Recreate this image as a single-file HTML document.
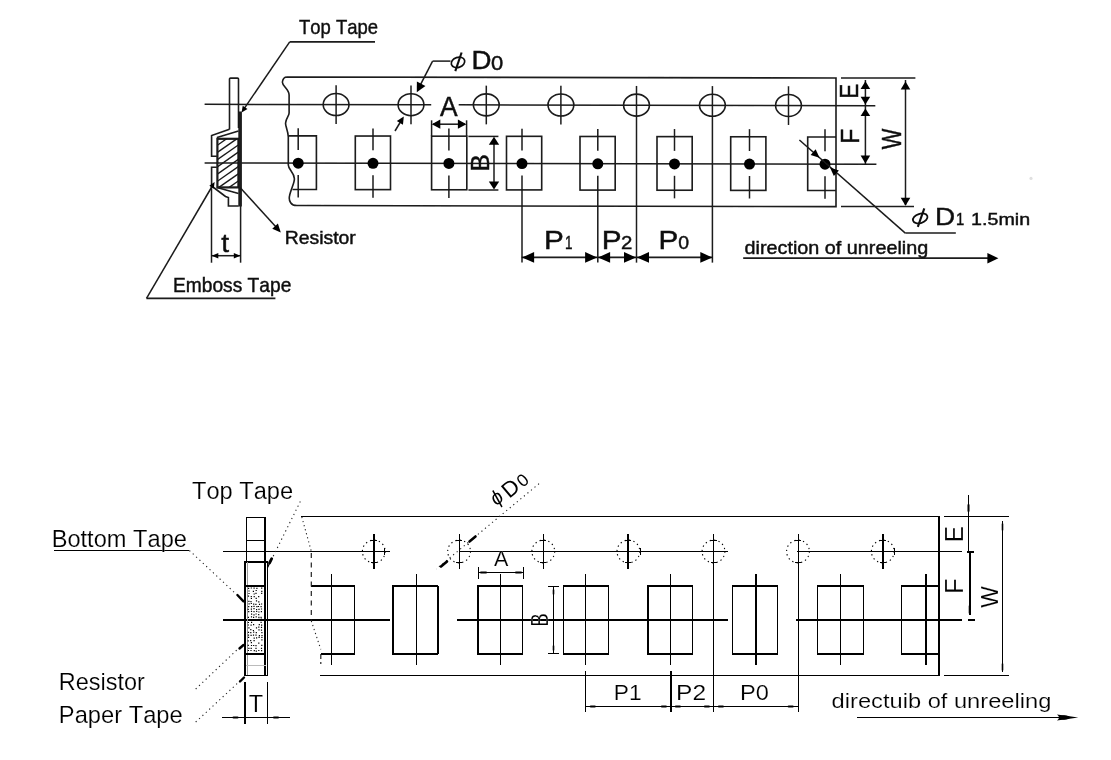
<!DOCTYPE html>
<html><head><meta charset="utf-8"><style>
html,body{margin:0;padding:0;background:#fff;}
body{width:1111px;height:760px;overflow:hidden;}
svg{display:block;font-kerning:none;}
</style></head><body>
<svg width="1111" height="760" viewBox="0 0 1111 760">
<rect width="1111" height="760" fill="#fff"/>
<defs><filter id="bl" x="-5%" y="-5%" width="110%" height="110%"><feGaussianBlur stdDeviation="0.55"/></filter></defs>
<g filter="url(#bl)"><g>
<g stroke="#1a1a1a" fill="none" stroke-linecap="butt" stroke-width="1.6">
<line x1="289.70" y1="41.80" x2="375.00" y2="41.80" stroke-width="1.8" />
<line x1="289.70" y1="41.80" x2="244.00" y2="108.80" stroke-width="1.5" />
<polygon points="241.60,112.40 242.70,105.64 247.49,108.92" fill="#000" stroke="none"/>
<path d="M287.2,76.95 L836,78.05 L836,206.65 L297,205.57 C291,205.6 288.5,201 289.5,196 C290.5,190 294.5,183 294.4,178.8 C294,172 288.5,170 288.3,165 L288.3,137 C288,130 285.2,126 285.6,123 C286,118 289.2,116 289.1,113 L289.1,95 C289,89 282,86 282.4,82 C282.8,78.5 285,76.95 287.2,76.95 Z"/>
<line x1="204.60" y1="104.29" x2="431.20" y2="104.74" stroke-width="1.5" />
<line x1="458.70" y1="104.80" x2="875.30" y2="105.63" stroke-width="1.5" />
<line x1="204.60" y1="162.99" x2="876.40" y2="164.33" stroke-width="1.5" />
<ellipse cx="336.1" cy="104.55" rx="12.9" ry="11.0"/>
<line x1="336.10" y1="85.35" x2="336.10" y2="124.05" stroke-width="1.5" />
<ellipse cx="411.0" cy="104.70" rx="12.9" ry="11.0"/>
<line x1="411.00" y1="85.50" x2="411.00" y2="124.20" stroke-width="1.5" />
<ellipse cx="486.3" cy="104.85" rx="12.9" ry="11.0"/>
<line x1="486.30" y1="85.65" x2="486.30" y2="124.35" stroke-width="1.5" />
<ellipse cx="560.9" cy="105.00" rx="12.9" ry="11.0"/>
<line x1="560.90" y1="85.80" x2="560.90" y2="124.50" stroke-width="1.5" />
<ellipse cx="636.5" cy="105.15" rx="12.9" ry="11.0"/>
<line x1="636.50" y1="85.95" x2="636.50" y2="262.60" stroke-width="1.5" />
<ellipse cx="712.4" cy="105.30" rx="12.9" ry="11.0"/>
<line x1="712.40" y1="86.10" x2="712.40" y2="262.60" stroke-width="1.5" />
<ellipse cx="788.5" cy="105.46" rx="12.9" ry="11.0"/>
<line x1="788.50" y1="86.26" x2="788.50" y2="124.96" stroke-width="1.5" />
<path d="M288.6,135.88 L316.4,135.88 L316.4,189.48 L292.5,189.48"/>
<circle cx="298.2" cy="163.18" r="5.5" fill="#000" stroke="none"/>
<line x1="298.20" y1="128.28" x2="298.20" y2="150.08" stroke-width="1.5" />
<line x1="298.20" y1="175.08" x2="298.20" y2="197.58" stroke-width="1.5" />
<rect x="355.3" y="136.03" width="35.2" height="53.60"/>
<circle cx="373.0" cy="163.33" r="5.5" fill="#000" stroke="none"/>
<line x1="373.00" y1="128.43" x2="373.00" y2="150.23" stroke-width="1.5" />
<line x1="373.00" y1="175.23" x2="373.00" y2="197.73" stroke-width="1.5" />
<rect x="431.6" y="136.18" width="35.2" height="53.60"/>
<circle cx="448.9" cy="163.48" r="5.5" fill="#000" stroke="none"/>
<line x1="448.90" y1="128.58" x2="448.90" y2="150.38" stroke-width="1.5" />
<line x1="448.90" y1="175.38" x2="448.90" y2="197.88" stroke-width="1.5" />
<rect x="506.5" y="136.32" width="35.2" height="53.60"/>
<circle cx="522.0" cy="163.62" r="5.5" fill="#000" stroke="none"/>
<line x1="522.00" y1="128.72" x2="522.00" y2="150.52" stroke-width="1.5" />
<line x1="522.00" y1="175.52" x2="522.00" y2="262.60" stroke-width="1.5" />
<rect x="580.0" y="136.48" width="35.2" height="53.60"/>
<circle cx="597.8" cy="163.78" r="5.5" fill="#000" stroke="none"/>
<line x1="597.80" y1="128.88" x2="597.80" y2="150.68" stroke-width="1.5" />
<line x1="597.80" y1="175.68" x2="597.80" y2="262.60" stroke-width="1.5" />
<rect x="657.0" y="136.63" width="35.2" height="53.60"/>
<circle cx="674.5" cy="163.93" r="5.5" fill="#000" stroke="none"/>
<line x1="674.50" y1="129.03" x2="674.50" y2="150.83" stroke-width="1.5" />
<line x1="674.50" y1="175.83" x2="674.50" y2="198.33" stroke-width="1.5" />
<rect x="730.7" y="136.78" width="35.2" height="53.60"/>
<circle cx="749.5" cy="164.08" r="5.5" fill="#000" stroke="none"/>
<line x1="749.50" y1="129.18" x2="749.50" y2="150.98" stroke-width="1.5" />
<line x1="749.50" y1="175.98" x2="749.50" y2="198.48" stroke-width="1.5" />
<path d="M836,136.93 L807.7,136.93 L807.7,190.53 L836,190.53"/>
<circle cx="825.0" cy="164.23" r="5.5" fill="#000" stroke="none"/>
<line x1="825.00" y1="129.33" x2="825.00" y2="151.13" stroke-width="1.5" />
<line x1="825.00" y1="176.13" x2="825.00" y2="198.63" stroke-width="1.5" />
<line x1="431.60" y1="120.30" x2="431.60" y2="136.00" stroke-width="1.5" />
<line x1="466.60" y1="120.30" x2="466.60" y2="136.00" stroke-width="1.5" />
<line x1="433.00" y1="124.20" x2="465.00" y2="124.20" stroke-width="1.5" />
<polygon points="431.80,124.20 440.30,119.60 440.30,128.80" fill="#000" stroke="none"/>
<polygon points="466.40,124.20 457.90,128.80 457.90,119.60" fill="#000" stroke="none"/>
<line x1="468.40" y1="136.40" x2="498.40" y2="136.40" stroke-width="1.5" />
<line x1="468.40" y1="190.00" x2="498.40" y2="190.00" stroke-width="1.5" />
<line x1="494.00" y1="140.00" x2="494.00" y2="186.00" stroke-width="1.5" />
<polygon points="494.00,136.80 499.20,144.80 488.80,144.80" fill="#000" stroke="none"/>
<polygon points="494.00,189.60 488.80,181.60 499.20,181.60" fill="#000" stroke="none"/>
<line x1="450.50" y1="61.10" x2="432.60" y2="61.10" stroke-width="1.5" />
<line x1="432.60" y1="61.10" x2="420.50" y2="84.60" stroke-width="1.5" />
<polygon points="416.80,92.20 416.88,81.56 425.42,85.95" fill="#000" stroke="none"/>
<line x1="395.00" y1="131.00" x2="401.00" y2="121.00" stroke-width="1.5" />
<polygon points="403.80,116.50 402.94,124.77 396.80,121.00" fill="#000" stroke="none"/>
<line x1="841.00" y1="78.10" x2="915.40" y2="78.10" stroke-width="1.5" />
<line x1="841.00" y1="206.60" x2="914.00" y2="206.60" stroke-width="1.5" />
<line x1="865.40" y1="80.00" x2="865.40" y2="164.30" stroke-width="1.5" />
<polygon points="865.40,81.20 870.20,89.00 860.60,89.00" fill="#000" stroke="none"/>
<polygon points="865.40,104.50 860.60,96.70 870.20,96.70" fill="#000" stroke="none"/>
<polygon points="865.40,108.50 870.20,116.00 860.60,116.00" fill="#000" stroke="none"/>
<polygon points="865.40,163.40 860.60,155.60 870.20,155.60" fill="#000" stroke="none"/>
<line x1="905.50" y1="80.00" x2="905.50" y2="205.00" stroke-width="1.5" />
<polygon points="905.50,81.40 910.30,89.40 900.70,89.40" fill="#000" stroke="none"/>
<polygon points="905.50,205.80 900.70,197.80 910.30,197.80" fill="#000" stroke="none"/>
<line x1="799.40" y1="140.00" x2="905.30" y2="233.10" stroke-width="1.5" />
<line x1="905.30" y1="233.10" x2="955.80" y2="233.10" stroke-width="1.5" />
<polygon points="819.50,157.80 810.62,155.01 815.66,149.32" fill="#000" stroke="none"/>
<polygon points="830.00,167.60 838.88,170.39 833.84,176.08" fill="#000" stroke="none"/>
<line x1="521.60" y1="257.40" x2="712.80" y2="257.40" stroke-width="1.8" />
<polygon points="522.10,257.40 534.10,252.00 534.10,262.80" fill="#000" stroke="none"/>
<polygon points="597.10,257.40 585.10,262.80 585.10,252.00" fill="#000" stroke="none"/>
<polygon points="598.10,257.40 610.10,252.00 610.10,262.80" fill="#000" stroke="none"/>
<polygon points="636.00,257.40 624.00,262.80 624.00,252.00" fill="#000" stroke="none"/>
<polygon points="637.00,257.40 649.00,252.00 649.00,262.80" fill="#000" stroke="none"/>
<polygon points="712.30,257.40 700.30,262.80 700.30,252.00" fill="#000" stroke="none"/>
<line x1="743.20" y1="258.20" x2="990.00" y2="258.20" stroke-width="1.8" />
<polygon points="998.40,258.20 987.40,263.40 987.40,253.00" fill="#000" stroke="none"/>
<path d="M229.5,129.5 L229.5,79 Q229.5,78.1 230.5,78.1 L237.5,78.1 Q238.5,78.1 238.5,79 L238.5,128"/>
<path d="M229.5,129.3 L211.6,135.6 L211.6,156.3 L216.8,156.3 M216.8,167.3 L211.6,167.3 L211.6,186 L225.5,196.5 L228.4,197.5 L228.4,206 L238.6,206"/>
<path d="M238.5,131 L217,137.5 M217,187.6 L238.5,193.5"/>
<defs><clipPath id="hc"><rect x="217" y="138.3" width="22" height="49.3"/></clipPath></defs>
<g clip-path="url(#hc)">
<line x1="212.00" y1="98.60" x2="244.00" y2="76.20" stroke-width="1.4" />
<line x1="212.00" y1="105.80" x2="244.00" y2="83.40" stroke-width="1.4" />
<line x1="212.00" y1="113.00" x2="244.00" y2="90.60" stroke-width="1.4" />
<line x1="212.00" y1="120.20" x2="244.00" y2="97.80" stroke-width="1.4" />
<line x1="212.00" y1="127.40" x2="244.00" y2="105.00" stroke-width="1.4" />
<line x1="212.00" y1="134.60" x2="244.00" y2="112.20" stroke-width="1.4" />
<line x1="212.00" y1="141.80" x2="244.00" y2="119.40" stroke-width="1.4" />
<line x1="212.00" y1="149.00" x2="244.00" y2="126.60" stroke-width="1.4" />
<line x1="212.00" y1="156.20" x2="244.00" y2="133.80" stroke-width="1.4" />
<line x1="212.00" y1="163.40" x2="244.00" y2="141.00" stroke-width="1.4" />
<line x1="212.00" y1="170.60" x2="244.00" y2="148.20" stroke-width="1.4" />
<line x1="212.00" y1="177.80" x2="244.00" y2="155.40" stroke-width="1.4" />
<line x1="212.00" y1="185.00" x2="244.00" y2="162.60" stroke-width="1.4" />
<line x1="212.00" y1="192.20" x2="244.00" y2="169.80" stroke-width="1.4" />
<line x1="212.00" y1="199.40" x2="244.00" y2="177.00" stroke-width="1.4" />
<line x1="212.00" y1="206.60" x2="244.00" y2="184.20" stroke-width="1.4" />
<line x1="212.00" y1="213.80" x2="244.00" y2="191.40" stroke-width="1.4" />
<line x1="212.00" y1="221.00" x2="244.00" y2="198.60" stroke-width="1.4" />
</g>
<rect x="217.4" y="138.8" width="21" height="48.6" stroke-width="2.2"/>
<line x1="240.10" y1="111.50" x2="240.10" y2="206.50" stroke-width="3.6" />
<line x1="211.50" y1="186.00" x2="211.50" y2="262.70" stroke-width="1.5" />
<line x1="240.60" y1="206.00" x2="240.60" y2="262.70" stroke-width="1.5" />
<line x1="212.00" y1="255.70" x2="240.00" y2="255.70" stroke-width="1.5" />
<polygon points="211.80,255.70 218.30,252.90 218.30,258.50" fill="#000" stroke="none"/>
<polygon points="240.30,255.70 233.80,258.50 233.80,252.90" fill="#000" stroke="none"/>
<line x1="146.50" y1="298.40" x2="275.40" y2="298.40" stroke-width="1.8" />
<line x1="146.50" y1="298.40" x2="212.30" y2="186.00" stroke-width="1.5" />
<polygon points="214.60,182.00 213.80,188.49 209.32,185.85" fill="#000" stroke="none"/>
<line x1="240.50" y1="188.00" x2="276.50" y2="227.50" stroke-width="1.5" />
<polygon points="280.80,232.40 272.27,228.66 277.90,223.55" fill="#000" stroke="none"/>
</g>
<circle cx="1031" cy="178.4" r="1.6" fill="#e0e0e0"/>
<g stroke="#111" stroke-width="0.45">
<text x="299.09" y="33.50" font-family="Liberation Sans" font-size="20.640" textLength="78.934" lengthAdjust="spacingAndGlyphs" fill="#111">Top Tape</text>
<g fill="none" stroke="#111"><ellipse cx="458.0" cy="62.4" rx="6.9" ry="5.0" stroke-width="1.7" transform="rotate(-18 458 62.4)"/><line x1="455.3" y1="71.2" x2="461.6" y2="52.5" stroke-width="2.1"/></g>
<text x="471.43" y="69.00" font-family="Liberation Sans" font-size="25.146" textLength="19.996" lengthAdjust="spacingAndGlyphs" fill="#111">D</text>
<text x="490.94" y="69.50" font-family="Liberation Sans" font-size="20.050" textLength="12.216" lengthAdjust="spacingAndGlyphs" fill="#111">0</text>
<text x="439.95" y="115.70" font-family="Liberation Sans" font-size="27.181" textLength="17.603" lengthAdjust="spacingAndGlyphs" fill="#111">A</text>
<text transform="translate(489.30,0) rotate(-90)" x="-171.69" y="0" font-family="Liberation Sans" font-size="26.018" textLength="17.796" lengthAdjust="spacingAndGlyphs" fill="#111">B</text>
<text transform="translate(857.90,0) rotate(-90)" x="-98.40" y="0" font-family="Liberation Sans" font-size="26.454" textLength="14.645" lengthAdjust="spacingAndGlyphs" fill="#111">E</text>
<text transform="translate(858.90,0) rotate(-90)" x="-143.83" y="0" font-family="Liberation Sans" font-size="25.873" textLength="15.122" lengthAdjust="spacingAndGlyphs" fill="#111">F</text>
<text transform="translate(901.00,0) rotate(-90)" x="-149.30" y="0" font-family="Liberation Sans" font-size="26.745" textLength="20.671" lengthAdjust="spacingAndGlyphs" fill="#111">W</text>
<g fill="none" stroke="#111"><ellipse cx="920.2" cy="218.4" rx="7.5" ry="4.6" stroke-width="1.8" transform="rotate(-18 920.2 218.4)"/><line x1="917.8" y1="226.8" x2="924.3" y2="208.3" stroke-width="2.1"/></g>
<text x="935.11" y="224.60" font-family="Liberation Sans" font-size="24.710" textLength="20.118" lengthAdjust="spacingAndGlyphs" fill="#111">D</text>
<text x="956.07" y="224.80" font-family="Liberation Sans" font-size="16.715" textLength="8.255" lengthAdjust="spacingAndGlyphs" fill="#111">1</text>
<text x="971.10" y="224.80" font-family="Liberation Sans" font-size="16.715" textLength="58.973" lengthAdjust="spacingAndGlyphs" fill="#111">1.5min</text>
<text x="544.06" y="248.80" font-family="Liberation Sans" font-size="25.146" textLength="19.801" lengthAdjust="spacingAndGlyphs" fill="#111">P</text>
<text x="564.88" y="248.80" font-family="Liberation Sans" font-size="18.896" textLength="7.482" lengthAdjust="spacingAndGlyphs" fill="#111">1</text>
<text x="601.66" y="248.80" font-family="Liberation Sans" font-size="25.146" textLength="19.801" lengthAdjust="spacingAndGlyphs" fill="#111">P</text>
<text x="621.07" y="248.80" font-family="Liberation Sans" font-size="18.618" textLength="11.353" lengthAdjust="spacingAndGlyphs" fill="#111">2</text>
<text x="658.56" y="248.80" font-family="Liberation Sans" font-size="25.146" textLength="19.801" lengthAdjust="spacingAndGlyphs" fill="#111">P</text>
<text x="678.24" y="248.80" font-family="Liberation Sans" font-size="18.618" textLength="10.820" lengthAdjust="spacingAndGlyphs" fill="#111">0</text>
<text x="744.57" y="253.50" font-family="Liberation Sans" font-size="18.079" textLength="183.605" lengthAdjust="spacingAndGlyphs" fill="#111">direction of unreeling</text>
<text x="221.17" y="251.60" font-family="Liberation Sans" font-size="26.605" textLength="7.833" lengthAdjust="spacingAndGlyphs" fill="#111">t</text>
<text x="284.81" y="243.70" font-family="Liberation Sans" font-size="17.733" textLength="71.010" lengthAdjust="spacingAndGlyphs" fill="#111">Resistor</text>
<text x="173.03" y="291.60" font-family="Liberation Sans" font-size="19.767" textLength="118.326" lengthAdjust="spacingAndGlyphs" fill="#111">Emboss Tape</text>
</g>
</g></g>
<g fill="none" shape-rendering="crispEdges">
<line x1="300.7" y1="516.5" x2="940" y2="516.5" stroke="#000" stroke-width="1" />
<line x1="320.3" y1="675.5" x2="940" y2="675.5" stroke="#000" stroke-width="1" />
<line x1="939" y1="516" x2="939" y2="676" stroke="#000" stroke-width="2" />
<line x1="223.4" y1="551.5" x2="389.8" y2="551.5" stroke="#000" stroke-width="1" />
<line x1="459" y1="551.5" x2="728" y2="551.5" stroke="#000" stroke-width="1" />
<line x1="796.6" y1="551.5" x2="962.4" y2="551.5" stroke="#000" stroke-width="1" />
<line x1="223.4" y1="620" x2="389.5" y2="620" stroke="#000" stroke-width="2" />
<line x1="457.2" y1="620" x2="727.9" y2="620" stroke="#000" stroke-width="2" />
<line x1="795.6" y1="620" x2="962.4" y2="620" stroke="#000" stroke-width="2" />
<line x1="968" y1="620" x2="975" y2="620" stroke="#000" stroke-width="2" />
<circle cx="373.8" cy="551.5" r="11.4" stroke="#000" stroke-width="1.1" stroke-dasharray="1.3 3.2" shape-rendering="auto"/>
<line x1="370.8" y1="540.5" x2="376.8" y2="540.5" stroke="#000" stroke-width="1" />
<line x1="370.8" y1="562.5" x2="376.8" y2="562.5" stroke="#000" stroke-width="1" />
<line x1="374" y1="534" x2="374" y2="569.4" stroke="#000" stroke-width="2" />
<circle cx="459.1" cy="551.5" r="11.4" stroke="#000" stroke-width="1.1" stroke-dasharray="1.3 3.2" shape-rendering="auto"/>
<line x1="456.1" y1="540.5" x2="462.1" y2="540.5" stroke="#000" stroke-width="1" />
<line x1="456.1" y1="562.5" x2="462.1" y2="562.5" stroke="#000" stroke-width="1" />
<line x1="459.5" y1="534" x2="459.5" y2="569.4" stroke="#000" stroke-width="1" />
<circle cx="543.3" cy="551.5" r="11.4" stroke="#000" stroke-width="1.1" stroke-dasharray="1.3 3.2" shape-rendering="auto"/>
<line x1="540.3" y1="540.5" x2="546.3" y2="540.5" stroke="#000" stroke-width="1" />
<line x1="540.3" y1="562.5" x2="546.3" y2="562.5" stroke="#000" stroke-width="1" />
<line x1="543.5" y1="534" x2="543.5" y2="569.4" stroke="#000" stroke-width="1" />
<circle cx="628.4" cy="551.5" r="11.4" stroke="#000" stroke-width="1.1" stroke-dasharray="1.3 3.2" shape-rendering="auto"/>
<line x1="625.4" y1="540.5" x2="631.4" y2="540.5" stroke="#000" stroke-width="1" />
<line x1="625.4" y1="562.5" x2="631.4" y2="562.5" stroke="#000" stroke-width="1" />
<line x1="628" y1="534" x2="628" y2="569.4" stroke="#000" stroke-width="2" />
<circle cx="713.5" cy="551.5" r="11.4" stroke="#000" stroke-width="1.1" stroke-dasharray="1.3 3.2" shape-rendering="auto"/>
<line x1="710.5" y1="540.5" x2="716.5" y2="540.5" stroke="#000" stroke-width="1" />
<line x1="710.5" y1="562.5" x2="716.5" y2="562.5" stroke="#000" stroke-width="1" />
<line x1="713.5" y1="534" x2="713.5" y2="712.2" stroke="#000" stroke-width="1" />
<circle cx="798" cy="551.5" r="11.4" stroke="#000" stroke-width="1.1" stroke-dasharray="1.3 3.2" shape-rendering="auto"/>
<line x1="795" y1="540.5" x2="801" y2="540.5" stroke="#000" stroke-width="1" />
<line x1="795" y1="562.5" x2="801" y2="562.5" stroke="#000" stroke-width="1" />
<line x1="798.5" y1="534" x2="798.5" y2="712.2" stroke="#000" stroke-width="1" />
<circle cx="882.8" cy="551.5" r="11.4" stroke="#000" stroke-width="1.1" stroke-dasharray="1.3 3.2" shape-rendering="auto"/>
<line x1="879.8" y1="540.5" x2="885.8" y2="540.5" stroke="#000" stroke-width="1" />
<line x1="879.8" y1="562.5" x2="885.8" y2="562.5" stroke="#000" stroke-width="1" />
<line x1="883" y1="534" x2="883" y2="569.4" stroke="#000" stroke-width="2" />
<line x1="384.5" y1="548" x2="384.5" y2="555" stroke="#000" stroke-width="1" />
<line x1="640.5" y1="548" x2="640.5" y2="555" stroke="#000" stroke-width="1" />
<line x1="894.5" y1="548" x2="894.5" y2="555" stroke="#000" stroke-width="1" />
<line x1="393" y1="585" x2="393" y2="655" stroke="#000" stroke-width="2" />
<line x1="392" y1="586" x2="438" y2="586" stroke="#000" stroke-width="2" />
<line x1="392" y1="654" x2="438" y2="654" stroke="#000" stroke-width="2" />
<line x1="438" y1="586" x2="438" y2="654" stroke="#000" stroke-width="2" />
<line x1="478" y1="585" x2="478" y2="655" stroke="#000" stroke-width="2" />
<line x1="477" y1="586" x2="523" y2="586" stroke="#000" stroke-width="2" />
<line x1="477" y1="654" x2="523" y2="654" stroke="#000" stroke-width="2" />
<line x1="522.5" y1="586" x2="522.5" y2="654" stroke="#000" stroke-width="1" />
<line x1="563.5" y1="585" x2="563.5" y2="655" stroke="#000" stroke-width="1" />
<line x1="563" y1="586" x2="609" y2="586" stroke="#000" stroke-width="2" />
<line x1="563" y1="654" x2="609" y2="654" stroke="#000" stroke-width="2" />
<line x1="608.5" y1="586" x2="608.5" y2="654" stroke="#000" stroke-width="1" />
<line x1="648" y1="585" x2="648" y2="655" stroke="#000" stroke-width="2" />
<line x1="647" y1="586" x2="693" y2="586" stroke="#000" stroke-width="2" />
<line x1="647" y1="654" x2="693" y2="654" stroke="#000" stroke-width="2" />
<line x1="692.5" y1="586" x2="692.5" y2="654" stroke="#000" stroke-width="1" />
<line x1="732.5" y1="585" x2="732.5" y2="655" stroke="#000" stroke-width="1" />
<line x1="732" y1="586" x2="778" y2="586" stroke="#000" stroke-width="2" />
<line x1="732" y1="654" x2="778" y2="654" stroke="#000" stroke-width="2" />
<line x1="777.5" y1="586" x2="777.5" y2="654" stroke="#000" stroke-width="1" />
<line x1="817.5" y1="585" x2="817.5" y2="655" stroke="#000" stroke-width="1" />
<line x1="817" y1="586" x2="863.5" y2="586" stroke="#000" stroke-width="2" />
<line x1="817" y1="654" x2="863.5" y2="654" stroke="#000" stroke-width="2" />
<line x1="863.0" y1="586" x2="863.0" y2="654" stroke="#000" stroke-width="1" />
<line x1="901.5" y1="585" x2="901.5" y2="655" stroke="#000" stroke-width="1" />
<line x1="901" y1="586" x2="939" y2="586" stroke="#000" stroke-width="2" />
<line x1="901" y1="654" x2="939" y2="654" stroke="#000" stroke-width="2" />
<line x1="310.5" y1="586" x2="355" y2="586" stroke="#000" stroke-width="2" />
<line x1="320.5" y1="654" x2="355" y2="654" stroke="#000" stroke-width="2" />
<line x1="354.5" y1="586" x2="354.5" y2="654" stroke="#000" stroke-width="1" />
<line x1="331" y1="574" x2="331" y2="664.7" stroke="#000" stroke-width="1" />
<line x1="416.5" y1="574" x2="416.5" y2="664.7" stroke="#000" stroke-width="1" />
<line x1="500.5" y1="574" x2="500.5" y2="664.7" stroke="#000" stroke-width="1" />
<line x1="585.5" y1="574" x2="585.5" y2="664.7" stroke="#000" stroke-width="1" />
<line x1="670.5" y1="574" x2="670.5" y2="664.7" stroke="#000" stroke-width="1" />
<line x1="756" y1="574" x2="756" y2="664.7" stroke="#000" stroke-width="2" />
<line x1="840.5" y1="574" x2="840.5" y2="664.7" stroke="#000" stroke-width="1" />
<line x1="926" y1="574" x2="926" y2="664.7" stroke="#000" stroke-width="2" />
<line x1="585.5" y1="671" x2="585.5" y2="712.2" stroke="#000" stroke-width="1" />
<line x1="671" y1="671" x2="671" y2="712.2" stroke="#000" stroke-width="2" />
</g>
<line x1="301.8" y1="517" x2="311.3" y2="551.2" stroke="#222" stroke-width="1.1" stroke-dasharray="1.2 3" shape-rendering="auto"/>
<line x1="311.3" y1="553" x2="311.3" y2="621" stroke="#222" stroke-width="1.2" stroke-dasharray="5 4.5" shape-rendering="auto"/>
<line x1="311.3" y1="621" x2="320.8" y2="649.4" stroke="#222" stroke-width="1.1" stroke-dasharray="1.2 3" shape-rendering="auto"/>
<line x1="320.8" y1="654" x2="320.8" y2="664" stroke="#222" stroke-width="1.2" stroke-dasharray="5 3" shape-rendering="auto"/>
<g fill="none" shape-rendering="crispEdges">
<line x1="478.5" y1="567.3" x2="478.5" y2="579.2" stroke="#000" stroke-width="1" />
<line x1="523.5" y1="567.3" x2="523.5" y2="579.2" stroke="#000" stroke-width="1" />
<line x1="479" y1="572.5" x2="523" y2="572.5" stroke="#000" stroke-width="1" />
</g>
<line x1="481" y1="572.5" x2="486" y2="572.5" stroke="#000" stroke-width="2.2" stroke-linecap="round" shape-rendering="auto"/>
<line x1="516" y1="572.5" x2="521" y2="572.5" stroke="#000" stroke-width="2.2" stroke-linecap="round" shape-rendering="auto"/>
<g fill="none" shape-rendering="crispEdges">
<line x1="553.5" y1="586" x2="553.5" y2="654" stroke="#000" stroke-width="1" />
<line x1="548" y1="586.5" x2="558.5" y2="586.5" stroke="#000" stroke-width="1" />
<line x1="548" y1="653.5" x2="558.5" y2="653.5" stroke="#000" stroke-width="1" />
</g>
<line x1="553.5" y1="590" x2="553.5" y2="594" stroke="#000" stroke-width="1.6" stroke-linecap="round" shape-rendering="auto"/>
<line x1="553.5" y1="646" x2="553.5" y2="650" stroke="#000" stroke-width="1.6" stroke-linecap="round" shape-rendering="auto"/>
<g fill="none" shape-rendering="crispEdges">
<line x1="944.4" y1="516.5" x2="1008.8" y2="516.5" stroke="#000" stroke-width="1" />
<line x1="944.4" y1="675.5" x2="1008.8" y2="675.5" stroke="#000" stroke-width="1" />
<line x1="968.5" y1="495.2" x2="968.5" y2="551.5" stroke="#000" stroke-width="1" />
<line x1="967.3" y1="552" x2="974.2" y2="552" stroke="#000" stroke-width="2" />
<line x1="970" y1="552" x2="970" y2="615.4" stroke="#000" stroke-width="2" />
<line x1="1002.5" y1="521.4" x2="1002.5" y2="672" stroke="#000" stroke-width="1" />
</g>
<line x1="968.5" y1="505" x2="968.5" y2="511" stroke="#000" stroke-width="2" stroke-linecap="round" shape-rendering="auto"/>
<line x1="970" y1="560" x2="970" y2="566" stroke="#000" stroke-width="2" stroke-linecap="round" shape-rendering="auto"/>
<line x1="969.5" y1="606" x2="969.5" y2="613" stroke="#000" stroke-width="1.6" stroke-linecap="round" shape-rendering="auto"/>
<line x1="1002.5" y1="524" x2="1002.5" y2="530" stroke="#000" stroke-width="1.6" stroke-linecap="round" shape-rendering="auto"/>
<line x1="1002.5" y1="664" x2="1002.5" y2="670" stroke="#000" stroke-width="1.6" stroke-linecap="round" shape-rendering="auto"/>
<g fill="none" shape-rendering="crispEdges">
<line x1="585.5" y1="706.5" x2="797.7" y2="706.5" stroke="#000" stroke-width="1" />
</g>
<line x1="590.8" y1="706.5" x2="594.8" y2="706.5" stroke="#000" stroke-width="2.2" stroke-linecap="round" shape-rendering="auto"/>
<line x1="661.9" y1="706.5" x2="665.9" y2="706.5" stroke="#000" stroke-width="2.2" stroke-linecap="round" shape-rendering="auto"/>
<line x1="675.9" y1="706.5" x2="679.9" y2="706.5" stroke="#000" stroke-width="2.2" stroke-linecap="round" shape-rendering="auto"/>
<line x1="704.9" y1="706.5" x2="708.9" y2="706.5" stroke="#000" stroke-width="2.2" stroke-linecap="round" shape-rendering="auto"/>
<line x1="718.9" y1="706.5" x2="722.9" y2="706.5" stroke="#000" stroke-width="2.2" stroke-linecap="round" shape-rendering="auto"/>
<line x1="788.7" y1="706.5" x2="792.7" y2="706.5" stroke="#000" stroke-width="2.2" stroke-linecap="round" shape-rendering="auto"/>
<g shape-rendering="crispEdges">
<line x1="856.5" y1="717.5" x2="1060" y2="717.5" stroke="#000" stroke-width="1" />
</g>
<polygon points="1078.3,717.5 1057,714.5 1060,717.5 1057,720.5" fill="#000"/>
<ellipse cx="1064" cy="717.5" rx="6" ry="2.2" fill="#000"/>
<g fill="none" shape-rendering="crispEdges">
<line x1="246.5" y1="517.6" x2="246.5" y2="562" stroke="#000" stroke-width="1" />
<line x1="265" y1="517" x2="265" y2="676" stroke="#000" stroke-width="2" />
<line x1="246" y1="517.5" x2="266" y2="517.5" stroke="#000" stroke-width="1" />
<line x1="246" y1="540.5" x2="265" y2="540.5" stroke="#000" stroke-width="1" />
<line x1="244" y1="562" x2="268" y2="562" stroke="#000" stroke-width="2" />
<line x1="245" y1="561" x2="245" y2="676" stroke="#000" stroke-width="2" />
<line x1="247.5" y1="562" x2="247.5" y2="676" stroke="#999" stroke-width="1" />
<line x1="267.5" y1="562" x2="267.5" y2="676" stroke="#000" stroke-width="1" />
<line x1="246" y1="586" x2="265" y2="586" stroke="#000" stroke-width="2" />
<line x1="246" y1="653.5" x2="265" y2="653.5" stroke="#000" stroke-width="2" />
<line x1="246" y1="665" x2="266" y2="665" stroke="#bbb" stroke-width="1" />
<line x1="244" y1="675.5" x2="268" y2="675.5" stroke="#000" stroke-width="1" />
<line x1="244.5" y1="682" x2="244.5" y2="723.5" stroke="#000" stroke-width="2" />
<line x1="267.5" y1="682" x2="267.5" y2="723.5" stroke="#000" stroke-width="1" />
<line x1="221.5" y1="717.5" x2="290.2" y2="717.5" stroke="#000" stroke-width="1" />
</g>
<line x1="233.5" y1="717.5" x2="237.5" y2="717.5" stroke="#000" stroke-width="2.2" stroke-linecap="round" shape-rendering="auto"/>
<line x1="274" y1="717.5" x2="278" y2="717.5" stroke="#000" stroke-width="2.2" stroke-linecap="round" shape-rendering="auto"/>
<path d="M248.0,587.7h1.2v1.2h-1.2zM250.7,587.4h1.2v1.2h-1.2zM253.5,587.6h1.2v1.2h-1.2zM256.3,587.8h1.2v1.2h-1.2zM261.1,587.5h1.2v1.2h-1.2zM248.4,590.4h1.2v1.2h-1.2zM252.8,590.7h1.2v1.2h-1.2zM255.6,589.9h1.2v1.2h-1.2zM261.2,590.8h1.2v1.2h-1.2zM248.4,592.9h1.2v1.2h-1.2zM253.6,593.4h1.2v1.2h-1.2zM255.4,592.7h1.2v1.2h-1.2zM261.1,592.8h1.2v1.2h-1.2zM247.9,595.5h1.2v1.2h-1.2zM250.7,596.0h1.2v1.2h-1.2zM253.6,596.0h1.2v1.2h-1.2zM258.1,596.0h1.2v1.2h-1.2zM250.8,597.9h1.2v1.2h-1.2zM255.6,597.8h1.2v1.2h-1.2zM248.3,600.7h1.2v1.2h-1.2zM250.4,601.1h1.2v1.2h-1.2zM255.9,600.3h1.2v1.2h-1.2zM258.2,601.2h1.2v1.2h-1.2zM248.5,603.2h1.2v1.2h-1.2zM250.7,602.9h1.2v1.2h-1.2zM253.1,603.5h1.2v1.2h-1.2zM255.3,603.8h1.2v1.2h-1.2zM258.9,603.8h1.2v1.2h-1.2zM261.0,603.4h1.2v1.2h-1.2zM248.1,606.1h1.2v1.2h-1.2zM251.0,606.0h1.2v1.2h-1.2zM253.4,605.7h1.2v1.2h-1.2zM256.3,606.0h1.2v1.2h-1.2zM257.9,605.9h1.2v1.2h-1.2zM260.5,606.1h1.2v1.2h-1.2zM247.6,608.7h1.2v1.2h-1.2zM250.8,608.5h1.2v1.2h-1.2zM253.4,608.1h1.2v1.2h-1.2zM256.0,609.1h1.2v1.2h-1.2zM258.4,608.7h1.2v1.2h-1.2zM260.9,608.4h1.2v1.2h-1.2zM248.1,611.0h1.2v1.2h-1.2zM250.9,610.7h1.2v1.2h-1.2zM253.4,611.0h1.2v1.2h-1.2zM256.1,610.9h1.2v1.2h-1.2zM258.3,611.4h1.2v1.2h-1.2zM260.8,611.0h1.2v1.2h-1.2zM251.0,613.5h1.2v1.2h-1.2zM253.4,614.2h1.2v1.2h-1.2zM255.5,613.4h1.2v1.2h-1.2zM258.1,614.1h1.2v1.2h-1.2zM247.8,616.7h1.2v1.2h-1.2zM250.9,616.2h1.2v1.2h-1.2zM253.0,616.7h1.2v1.2h-1.2zM255.6,616.3h1.2v1.2h-1.2zM258.3,616.8h1.2v1.2h-1.2zM260.5,616.8h1.2v1.2h-1.2zM253.7,619.4h1.2v1.2h-1.2zM256.0,619.3h1.2v1.2h-1.2zM258.4,618.8h1.2v1.2h-1.2zM260.7,618.6h1.2v1.2h-1.2zM247.8,621.9h1.2v1.2h-1.2zM251.0,621.8h1.2v1.2h-1.2zM260.5,621.8h1.2v1.2h-1.2zM247.8,624.4h1.2v1.2h-1.2zM250.5,624.6h1.2v1.2h-1.2zM253.0,624.0h1.2v1.2h-1.2zM258.7,624.1h1.2v1.2h-1.2zM261.0,624.5h1.2v1.2h-1.2zM248.3,627.2h1.2v1.2h-1.2zM255.9,627.2h1.2v1.2h-1.2zM258.2,626.6h1.2v1.2h-1.2zM260.9,626.8h1.2v1.2h-1.2zM250.2,629.0h1.2v1.2h-1.2zM252.8,629.9h1.2v1.2h-1.2zM258.4,629.2h1.2v1.2h-1.2zM260.9,629.5h1.2v1.2h-1.2zM247.9,631.7h1.2v1.2h-1.2zM250.2,632.1h1.2v1.2h-1.2zM253.1,631.6h1.2v1.2h-1.2zM255.7,632.1h1.2v1.2h-1.2zM261.3,632.1h1.2v1.2h-1.2zM247.9,634.6h1.2v1.2h-1.2zM250.5,634.8h1.2v1.2h-1.2zM252.9,634.6h1.2v1.2h-1.2zM255.4,634.5h1.2v1.2h-1.2zM258.8,635.0h1.2v1.2h-1.2zM261.4,634.9h1.2v1.2h-1.2zM248.0,636.8h1.2v1.2h-1.2zM253.6,637.5h1.2v1.2h-1.2zM256.0,637.3h1.2v1.2h-1.2zM258.5,636.7h1.2v1.2h-1.2zM261.3,636.7h1.2v1.2h-1.2zM247.6,640.2h1.2v1.2h-1.2zM250.1,640.1h1.2v1.2h-1.2zM253.5,640.0h1.2v1.2h-1.2zM261.3,639.3h1.2v1.2h-1.2zM250.8,642.0h1.2v1.2h-1.2zM258.2,642.5h1.2v1.2h-1.2zM247.7,644.7h1.2v1.2h-1.2zM250.9,644.9h1.2v1.2h-1.2zM253.1,644.9h1.2v1.2h-1.2zM255.4,645.0h1.2v1.2h-1.2zM261.2,644.7h1.2v1.2h-1.2zM248.3,647.8h1.2v1.2h-1.2zM250.6,647.7h1.2v1.2h-1.2zM255.4,647.8h1.2v1.2h-1.2zM260.9,647.8h1.2v1.2h-1.2zM247.8,649.9h1.2v1.2h-1.2zM250.4,649.9h1.2v1.2h-1.2zM253.7,650.0h1.2v1.2h-1.2zM255.7,650.6h1.2v1.2h-1.2zM258.2,649.9h1.2v1.2h-1.2zM261.0,650.1h1.2v1.2h-1.2z" fill="#000"/>
<line x1="300.3" y1="501.5" x2="272.6" y2="557.5" stroke="#222" stroke-width="1.1" stroke-dasharray="1.2 3.4" shape-rendering="auto"/>
<line x1="271.7" y1="558.7" x2="269.5" y2="563" stroke="#000" stroke-width="2.8" stroke-linecap="round" shape-rendering="auto"/>
<line x1="269.5" y1="563" x2="267.8" y2="567.4" stroke="#000" stroke-width="1.2" />
<line x1="189.4" y1="550.5" x2="236" y2="594" stroke="#222" stroke-width="1.1" stroke-dasharray="1.2 3.4" shape-rendering="auto"/>
<line x1="237.4" y1="595" x2="243.5" y2="601.3" stroke="#000" stroke-width="2.4" stroke-linecap="round" shape-rendering="auto"/>
<line x1="195.7" y1="689" x2="240" y2="647" stroke="#222" stroke-width="1.1" stroke-dasharray="1.2 3.4" shape-rendering="auto"/>
<line x1="239.5" y1="648.5" x2="243.5" y2="645" stroke="#000" stroke-width="2.4" stroke-linecap="round" shape-rendering="auto"/>
<line x1="195.7" y1="722" x2="241" y2="680" stroke="#222" stroke-width="1.1" stroke-dasharray="1.2 3.4" shape-rendering="auto"/>
<line x1="240" y1="681.5" x2="244" y2="677.5" stroke="#000" stroke-width="2.4" stroke-linecap="round" shape-rendering="auto"/>
<g shape-rendering="crispEdges">
<line x1="54.1" y1="550.5" x2="189.4" y2="550.5" stroke="#000" stroke-width="1.2" />
</g>
<line x1="539" y1="483.7" x2="436.3" y2="569" stroke="#222" stroke-width="1.1" stroke-dasharray="1.2 3.4" shape-rendering="auto"/>
<line x1="469.5" y1="541.5" x2="475.5" y2="536.5" stroke="#000" stroke-width="2.6" stroke-linecap="round" shape-rendering="auto"/>
<line x1="441" y1="566.5" x2="447" y2="561.5" stroke="#000" stroke-width="2.6" stroke-linecap="round" shape-rendering="auto"/>
<defs><filter id="nf"><feOffset dx="0" dy="0"/></filter></defs>
<g stroke="#fff" stroke-width="0.15" filter="url(#nf)">
<text x="192.07" y="498.70" font-family="Liberation Sans" font-size="23.983" textLength="101.080" lengthAdjust="spacingAndGlyphs" fill="#000">Top Tape</text>
<text x="51.66" y="546.80" font-family="Liberation Sans" font-size="24.419" textLength="135.288" lengthAdjust="spacingAndGlyphs" fill="#000">Bottom Tape</text>
<text x="58.88" y="689.70" font-family="Liberation Sans" font-size="23.110" textLength="86.013" lengthAdjust="spacingAndGlyphs" fill="#000">Resistor</text>
<text x="58.86" y="722.80" font-family="Liberation Sans" font-size="23.110" textLength="123.796" lengthAdjust="spacingAndGlyphs" fill="#000">Paper Tape</text>
<text x="248.77" y="711.60" font-family="Liberation Sans" font-size="24.128" textLength="14.368" lengthAdjust="spacingAndGlyphs" fill="#000">T</text>
<text x="493.96" y="566.20" font-family="Liberation Sans" font-size="22.384" textLength="14.384" lengthAdjust="spacingAndGlyphs" fill="#000">A</text>
<text transform="translate(548.40,0) rotate(-90)" x="-626.70" y="0" font-family="Liberation Sans" font-size="24.128" textLength="13.785" lengthAdjust="spacingAndGlyphs" fill="#000">B</text>
<text transform="translate(962.90,0) rotate(-90)" x="-542.20" y="0" font-family="Liberation Sans" font-size="24.855" textLength="16.244" lengthAdjust="spacingAndGlyphs" fill="#000">E</text>
<text transform="translate(962.90,0) rotate(-90)" x="-594.10" y="0" font-family="Liberation Sans" font-size="24.855" textLength="15.622" lengthAdjust="spacingAndGlyphs" fill="#000">F</text>
<text transform="translate(997.50,0) rotate(-90)" x="-607.80" y="0" font-family="Liberation Sans" font-size="24.128" textLength="21.478" lengthAdjust="spacingAndGlyphs" fill="#000">W</text>
<text x="613.84" y="699.60" font-family="Liberation Sans" font-size="22.239" textLength="27.771" lengthAdjust="spacingAndGlyphs" fill="#000">P1</text>
<text x="676.08" y="699.60" font-family="Liberation Sans" font-size="21.912" textLength="30.051" lengthAdjust="spacingAndGlyphs" fill="#000">P2</text>
<text x="740.06" y="699.60" font-family="Liberation Sans" font-size="21.912" textLength="28.857" lengthAdjust="spacingAndGlyphs" fill="#000">P0</text>
<text x="831.61" y="708.20" font-family="Liberation Sans" font-size="19.735" textLength="219.719" lengthAdjust="spacingAndGlyphs" fill="#000">directuib of unreeling</text>
<text stroke="none" transform="translate(510.7,497.9) rotate(-40)" x="-1.8" y="0" font-family="Liberation Sans" font-size="22" fill="#000">D</text>
<text stroke="none" transform="translate(510.7,497.9) rotate(-40)" x="15.6" y="0" font-family="Liberation Sans" font-size="17.5" fill="#000">0</text>
<text stroke="none" transform="translate(510.7,497.9) rotate(-40)" x="-16.1" y="-2.75" font-family="Liberation Sans" font-style="italic" font-size="20" fill="#000">ϕ</text>
</g>
</svg>
</body></html>
